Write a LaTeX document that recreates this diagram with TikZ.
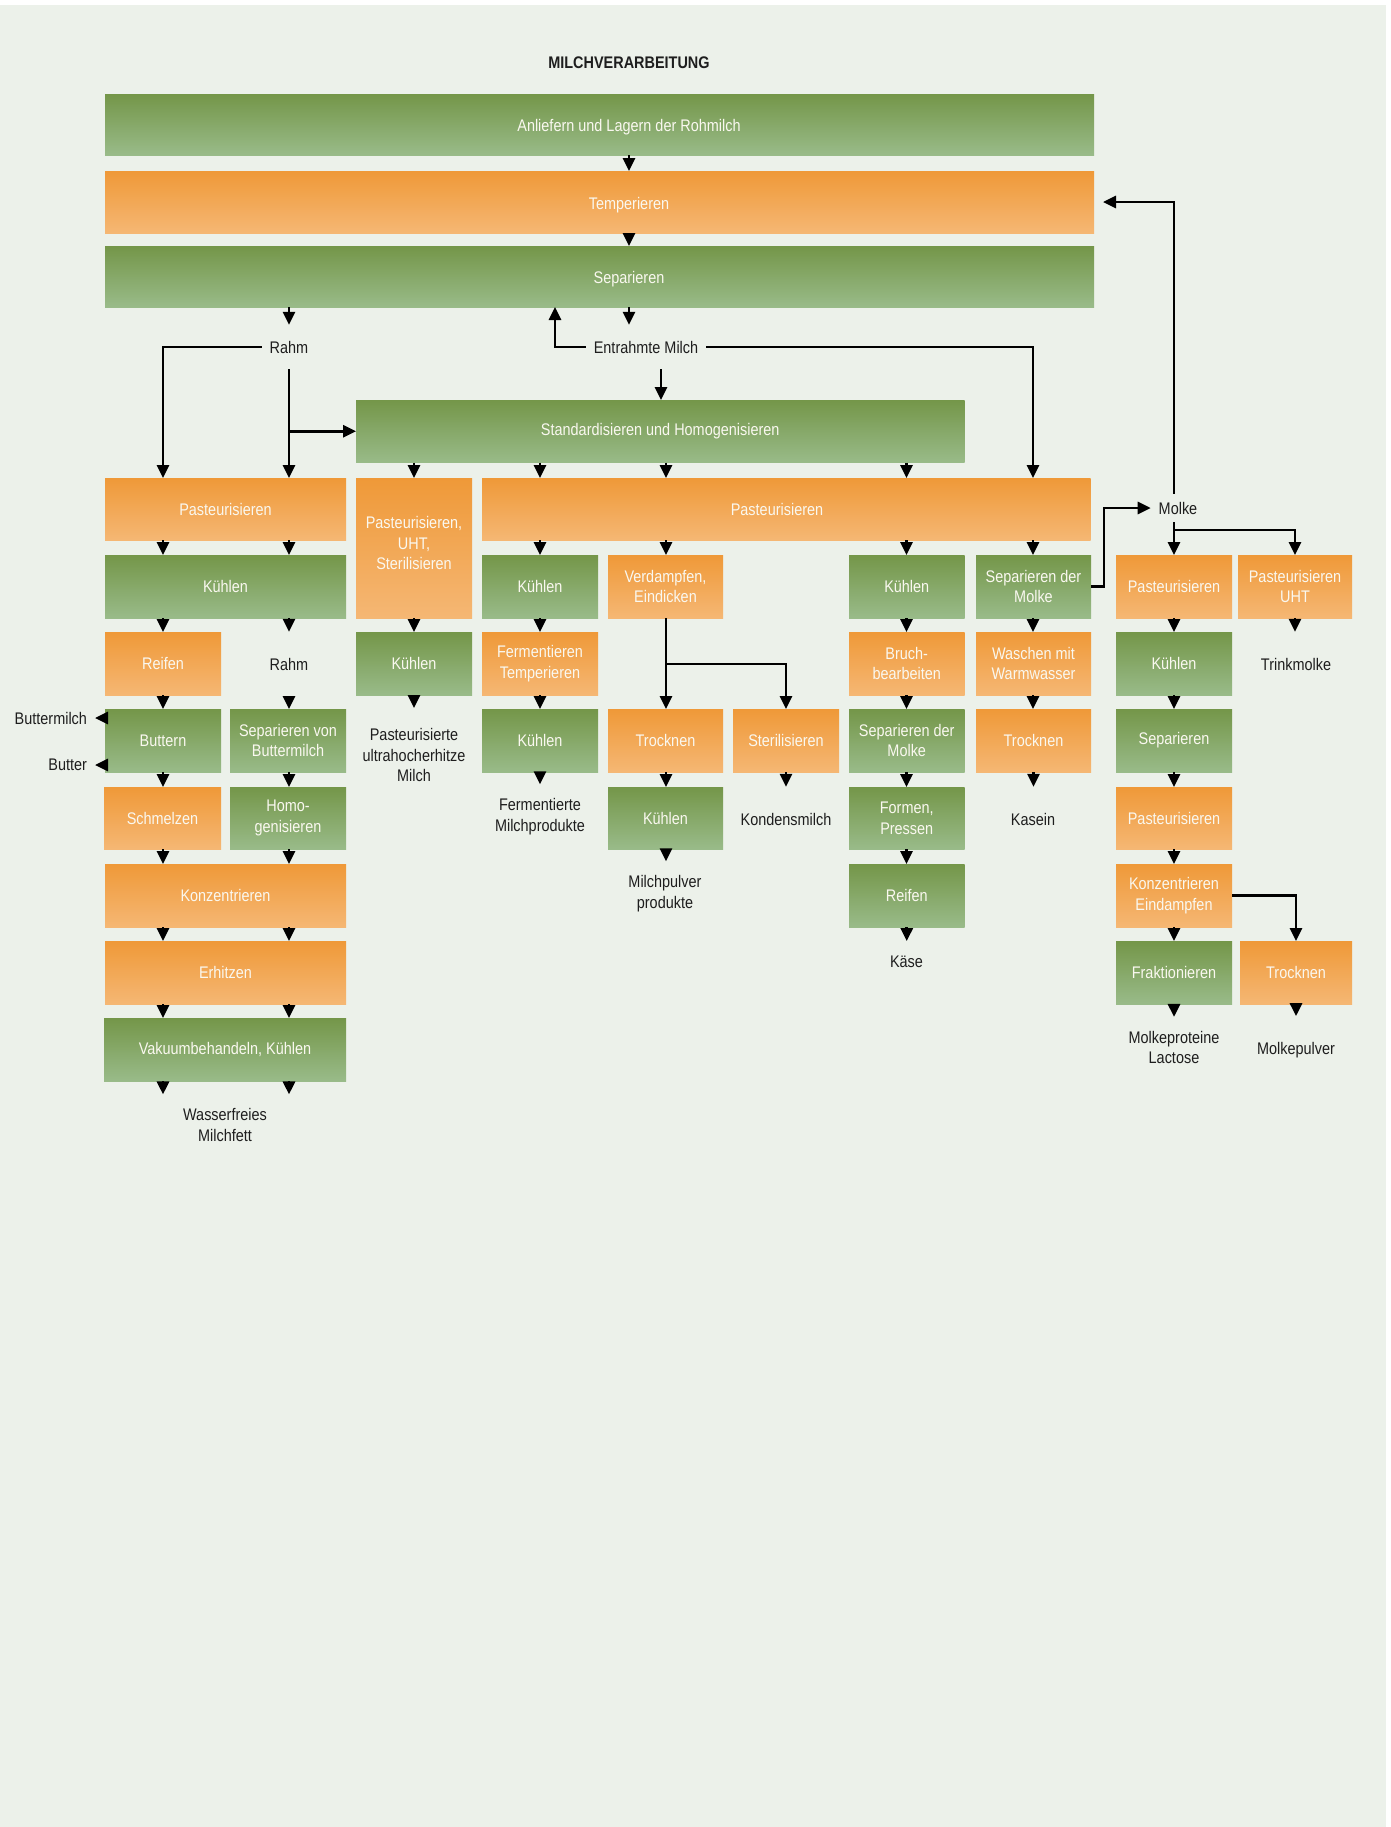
\documentclass[tikz,border=0pt]{standalone}
\usepackage{fontspec}
\setmainfont{Liberation Sans}[FakeStretch=0.86]
\usetikzlibrary{arrows.meta}

\definecolor{bgc}{RGB}{236,241,234}
\definecolor{gtop}{RGB}{116,150,73}
\definecolor{gbot}{RGB}{153,187,137}
\definecolor{otop}{RGB}{239,153,56}
\definecolor{obot}{RGB}{245,183,116}
\definecolor{lbltxt}{RGB}{30,30,30}
\definecolor{boxtxt}{RGB}{250,248,240}

% process box from its corner coordinates (x1,y1,x2,y2)
\newcommand{\procbox}[7]{%
  \pgfmathsetmacro{\pbw}{(#5-#3)*0.5}%
  \pgfmathsetmacro{\pbh}{(#6-#4)*0.5}%
  \node[#2, minimum width=\pbw pt, minimum height=\pbh pt] (#1) at ({(#3+#5)/2},{(#4+#6)/2}) {#7};%
}
% straight arrow between two stacked boxes along a given column
\newcommand{\vflow}[3]{\draw[flow] (#1.south -| #3) -- (#2.north -| #3);}

\begin{document}
\begin{tikzpicture}[x=0.5pt,y=-0.5pt,
  txtfont/.style={font=\fontsize{8.4}{10.4}\selectfont},
  basebox/.style={txtfont, inner sep=0pt, outer sep=0pt, align=center, text=boxtxt},
  gbox/.style={basebox, top color=gtop, bottom color=gbot},
  obox/.style={basebox, top color=otop, bottom color=obot},
  boxlabel/.style={txtfont, inner sep=0pt, text=boxtxt, align=center},
  lbl/.style={txtfont, inner sep=0pt, outer xsep=4pt, outer ysep=7pt, align=center, text=lbltxt},
  title/.style={font=\fontsize{8.4}{10.4}\selectfont\bfseries, text=lbltxt, inner sep=0pt},
  flow/.style={draw=black, line width=1.4pt, -{Triangle[length=6.5pt,width=6pt]}}
]
% page and background
\fill[white] (0,0) rectangle (1391,1827);
\fill[bgc] (0,5) rectangle (1386,1827);
\useasboundingbox (0,0) rectangle (1391,1827);

% columns of the arrows
\coordinate (cA) at (163,0);
\coordinate (cB) at (289,0);
\coordinate (cU) at (414,0);
\coordinate (cC) at (540,0);
\coordinate (cT) at (629,0);
\coordinate (cM) at (661,0);
\coordinate (cK) at (555,0);
\coordinate (cD) at (666,0);
\coordinate (cS) at (786,0);
\coordinate (cE) at (906.5,0);
\coordinate (cF) at (1033,0);
\coordinate (cJ) at (1104,0);
\coordinate (cW) at (1174,0);
\coordinate (cV) at (1296,0);

\node[title] (title) at (629,63) {MILCHVERARBEITUNG};

% main line
\procbox{anl}{gbox}{105}{94}{1094}{155}{}
\node[boxlabel] (anlT) at (629,127.5) {Anliefern und Lagern der Rohmilch};
\procbox{tmp}{obox}{105}{171}{1094}{233}{}
\node[boxlabel] (tmpT) at (629,205) {Temperieren};
\procbox{sep}{gbox}{105}{246}{1094}{307}{}
\node[boxlabel] (sepT) at (629,279.5) {Separieren};

\node[lbl, outer ysep=8pt] (rahm) at (289,347) {Rahm};
\node[lbl, outer ysep=8pt] (entr) at (646,347) {Entrahmte Milch};

\procbox{std}{gbox}{356}{400}{964.5}{462.5}{Standardisieren und Homogenisieren}

% row 3
\procbox{pasA}{obox}{105}{478}{346}{540}{Pasteurisieren}
\procbox{uht}{obox}{356}{478}{472}{618}{}
\node[boxlabel] (uhtT) at (414,543) {Pasteurisieren,\\UHT,\\Sterilisieren};
\procbox{pasB}{obox}{482}{478}{1090.5}{540}{}
\node[boxlabel] (pasBT) at (777,509) {Pasteurisieren};
\node[lbl, outer ysep=4pt] (molke) at (1178,508) {Molke};

% row 4
\procbox{kuA}{gbox}{105}{555}{346}{618}{Kühlen}
\procbox{kuC}{gbox}{482}{555}{598}{618}{Kühlen}
\procbox{ver}{obox}{608}{555}{723}{618}{Verdampfen,\\Eindicken}
\procbox{kuE}{gbox}{849}{555}{964.5}{618}{Kühlen}
\procbox{smA}{gbox}{976}{555}{1091}{618}{Separieren der\\Molke}
\procbox{pasW}{obox}{1116}{555}{1232}{618}{Pasteurisieren}
\procbox{pasU}{obox}{1238}{555}{1352}{618}{Pasteurisieren\\UHT}

% row 5
\procbox{rei}{obox}{105}{632}{221}{695}{Reifen}
\node[lbl, outer ysep=13pt] (rahmB) at (289,664) {Rahm};
\procbox{kuB}{gbox}{356}{632}{472}{695}{Kühlen}
\procbox{fer}{obox}{482}{632}{598}{695}{Fermentieren\\Temperieren}
\procbox{bru}{obox}{849}{632}{964.5}{695}{Bruch-\\bearbeiten}
\procbox{was}{obox}{976}{632}{1091}{695}{Waschen mit\\Warmwasser}
\procbox{kuW}{gbox}{1116}{632}{1232}{695}{Kühlen}
\node[lbl, outer ysep=13pt] (trink) at (1296,664) {Trinkmolke};

% row 6
\procbox{but}{gbox}{105}{709}{221}{772}{Buttern}
\procbox{sbm}{gbox}{230}{709}{346}{772}{Separieren von\\Buttermilch}
\node[lbl, outer ysep=10pt] (pum) at (414,755) {Pasteurisierte\\ultrahocherhitze\\Milch};
\procbox{kuC2}{gbox}{482}{709}{598}{772}{Kühlen}
\procbox{troD}{obox}{608}{709}{723}{772}{Trocknen}
\procbox{ste}{obox}{733}{709}{839}{772}{Sterilisieren}
\procbox{smE}{gbox}{849}{709}{964.5}{772}{Separieren der\\Molke}
\procbox{troF}{obox}{976}{709}{1091}{772}{Trocknen}
\procbox{sepW}{gbox}{1116}{709}{1232}{772}{Separieren}
\node[lbl, anchor=east] (bm) at (95,718) {Buttermilch};
\node[lbl, anchor=east] (bt) at (95,765) {Butter};

% row 7
\procbox{sch}{obox}{104}{787}{221}{849}{Schmelzen}
\procbox{hom}{gbox}{230}{787}{346}{849}{Homo-\\genisieren}
\node[lbl] (fmp) at (540,816.5) {Fermentierte\\Milchprodukte};
\procbox{kuD}{gbox}{608}{787}{723}{849}{Kühlen}
\node[lbl, outer ysep=13pt] (kond) at (786,819) {Kondensmilch};
\procbox{form}{gbox}{849}{787}{964.5}{849}{Formen,\\Pressen}
\node[lbl, outer ysep=13pt] (kas) at (1033,819) {Kasein};
\procbox{pasW2}{obox}{1116}{787}{1232}{849}{Pasteurisieren}

% row 8
\procbox{kon}{obox}{105}{864}{346}{927}{Konzentrieren}
\node[lbl] (mpp) at (665,893.5) {Milchpulver\\produkte};
\procbox{reiE}{gbox}{849}{864}{964.5}{927}{Reifen}
\procbox{kei}{obox}{1116}{864}{1232}{927}{Konzentrieren\\Eindampfen}

% row 9
\procbox{erh}{obox}{105}{941}{346}{1004}{Erhitzen}
\node[lbl, outer ysep=7.5pt] (kase) at (906.5,962) {Käse};
\procbox{fra}{gbox}{1116}{941}{1232}{1004}{Fraktionieren}
\procbox{troW}{obox}{1240}{941}{1352}{1004}{Trocknen}

% row 10
\procbox{vak}{gbox}{104}{1018}{346}{1081}{Vakuumbehandeln, Kühlen}
\node[lbl] (mpl) at (1174,1047.5) {Molkeproteine\\Lactose};
\node[lbl, outer ysep=13pt] (mpv) at (1296,1050) {Molkepulver};
\node[lbl] (wmf) at (225,1125) {Wasserfreies\\Milchfett};

% junction points
\coordinate (vj) at (666,664);
\coordinate (mj) at (1174,530);

% main line arrows
\vflow{anl}{tmp}{cT}
\vflow{tmp}{sep}{cT}
\draw[flow] (sep.south -| cB) -- (rahm.north -| cB);
\draw[flow] (sep.south -| cT) -- (entr.north -| cT);
\draw[flow] (entr.west) -| (sep.south -| cK);
\draw[flow] (rahm.west) -| (pasA.north -| cA);
\draw[flow] (rahm.south) -- (pasA.north -| cB);
\draw[flow] (rahm.south |- std.west) -- (std.west);
\draw[flow] (entr.south -| cM) -- (std.north -| cM);
\draw[flow] (entr.east) -| (pasB.north -| cF);

\vflow{std}{uht}{cU}
\vflow{std}{pasB}{cC}
\vflow{std}{pasB}{cD}
\vflow{std}{pasB}{cE}

% cream line
\vflow{pasA}{kuA}{cA}
\vflow{pasA}{kuA}{cB}
\vflow{kuA}{rei}{cA}
\draw[flow] (kuA.south -| cB) -- (rahmB.north -| cB);
\vflow{rei}{but}{cA}
\draw[flow] (rahmB.south -| cB) -- (sbm.north -| cB);
\draw[flow] (but.west |- bm.east) -- (bm.east);
\draw[flow] (but.west |- bt.east) -- (bt.east);
\vflow{but}{sch}{cA}
\vflow{sbm}{hom}{cB}
\vflow{sch}{kon}{cA}
\vflow{hom}{kon}{cB}
\vflow{kon}{erh}{cA}
\vflow{kon}{erh}{cB}
\vflow{erh}{vak}{cA}
\vflow{erh}{vak}{cB}
\draw[flow] (vak.south -| cA) -- (wmf.north -| cA);
\draw[flow] (vak.south -| cB) -- (wmf.north -| cB);

% UHT milk
\vflow{uht}{kuB}{cU}
\draw[flow] (kuB.south) -- (pum.north);

% fermented products
\vflow{pasB}{kuC}{cC}
\vflow{kuC}{fer}{cC}
\vflow{fer}{kuC2}{cC}
\draw[flow] (kuC2.south) -- (kuC2.south |- fmp.north);

% milk powder and condensed milk
\vflow{pasB}{ver}{cD}
\vflow{ver}{troD}{cD}
\draw[flow] (vj) -| (ste.north);
\vflow{troD}{kuD}{cD}
\draw[flow] (kuD.south -| cD) -- (mpp.north -| cD);
\draw[flow] (ste.south) -- (ste.south |- kond.north);

% cheese
\vflow{pasB}{kuE}{cE}
\vflow{kuE}{bru}{cE}
\vflow{bru}{smE}{cE}
\vflow{smE}{form}{cE}
\vflow{form}{reiE}{cE}
\draw[flow] (reiE.south) -- (reiE.south |- kase.north);

% casein
\vflow{pasB}{smA}{cF}
\vflow{smA}{was}{cF}
\vflow{was}{troF}{cF}
\draw[flow] (troF.south) -- (troF.south |- kas.north);

% whey
\draw[flow] (smA.east) -- (smA.east -| cJ) |- (molke.west);
\draw[flow, shorten >=4.5pt] (molke.north -| cW) |- (tmp.east);
\draw[flow] (molke.south -| cW) -- (pasW.north);
\draw[flow] (mj) -| (pasU.north);
\draw[flow] (pasU.south) -- (pasU.south |- trink.north);
\vflow{pasW}{kuW}{cW}
\vflow{kuW}{sepW}{cW}
\vflow{sepW}{pasW2}{cW}
\vflow{pasW2}{kei}{cW}
\vflow{kei}{fra}{cW}
\draw[flow] (fra.south) -- (fra.south |- mpl.north);
\draw[flow] (kei.east) -| (troW.north);
\draw[flow] (troW.south) -- (troW.south |- mpv.north);
\end{tikzpicture}
\end{document}
